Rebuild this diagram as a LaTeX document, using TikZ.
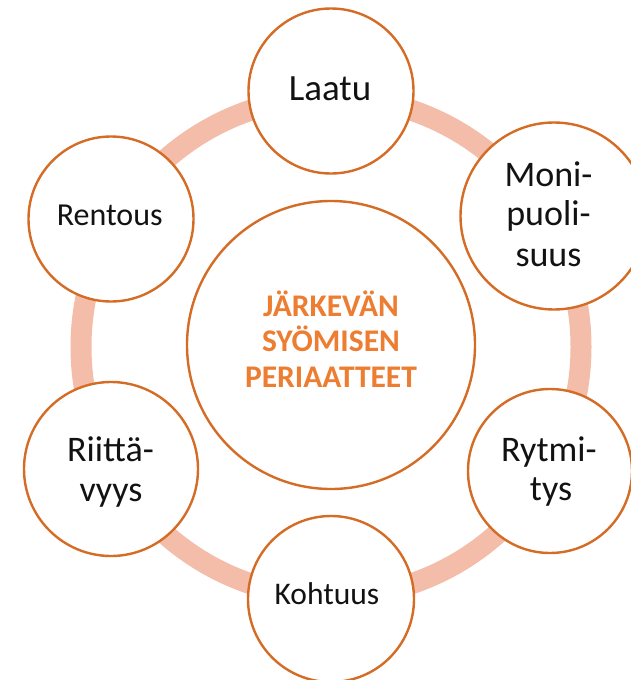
\documentclass[tikz,border=0pt]{standalone}
\usepackage{fontspec}
\setmainfont{Carlito}
\definecolor{ringpink}{RGB}{243,189,169}
\definecolor{rimorange}{RGB}{212,108,38}
\definecolor{titleorange}{RGB}{237,125,49}
\definecolor{ink}{RGB}{18,18,18}
\begin{document}
\begin{tikzpicture}[x=1pt,y=-1pt,
  ring/.style={draw=ringpink, line width=21pt},
  bubble/.style={circle, draw=rimorange, line width=2.4pt, fill=white, inner sep=0pt},
  lbl/.style={anchor=base, inner sep=0pt, text=ink, font=\fontsize{36}{40}\selectfont},
  lblsmall/.style={lbl, font=\fontsize{32}{36}\selectfont},
  title/.style={anchor=base, inner sep=0pt, text=titleorange, font=\bfseries\fontsize{31.5}{35}\selectfont}]
\useasboundingbox (0,0) rectangle (631,680);
\clip (0,0) rectangle (631,680);

% background ring linking the six principles
\coordinate (hub) at (331,347);
\draw[ring] (hub) circle[radius=250];

% central circle
\node[bubble, minimum size=288pt] (core) at (331,345) {};
\node[title] (t1) at (331,316.7) {JÄRKEVÄN};
\node[title] (t2) at (331,351.7) {SYÖMISEN};
\node[title] (t3) at (331,387.3) {PERIAATTEET};

% surrounding principles
\node[bubble, minimum size=165pt] (laatu) at (331,91) {};
\node[lbl, font=\fontsize{37}{40}\selectfont] (laatuT) at (330,100) {Laatu};

\node[bubble, minimum size=187pt] (moni) at (554,216) {};
\node[lbl] (moni1) at (548.5,186) {Moni-};
\node[lbl] (moni2) at (548.5,225.5) {puoli-};
\node[lbl] (moni3) at (548.5,266.7) {suus};

\node[bubble, minimum size=164pt] (rytmi) at (550,471) {};
\node[lbl] (rytmi1) at (549,461) {Rytmi-};
\node[lbl] (rytmi2) at (551,500) {tys};

\node[bubble, minimum size=166pt] (kohtuus) at (331,599) {};
\node[lblsmall, font=\fontsize{31.5}{36}\selectfont] (kohtuusT) at (327,604.3) {Kohtuus};

\node[bubble, minimum size=174pt] (riitta) at (111,469) {};
\node[lbl] (riitta1) at (110.5,461.7) {Riittä-};
\node[lbl] (riitta2) at (111,501.7) {vyys};

\node[bubble, minimum size=165pt] (rentous) at (111,219) {};
\node[lblsmall] (rentousT) at (109.7,225) {Rentous};
\end{tikzpicture}
\end{document}
